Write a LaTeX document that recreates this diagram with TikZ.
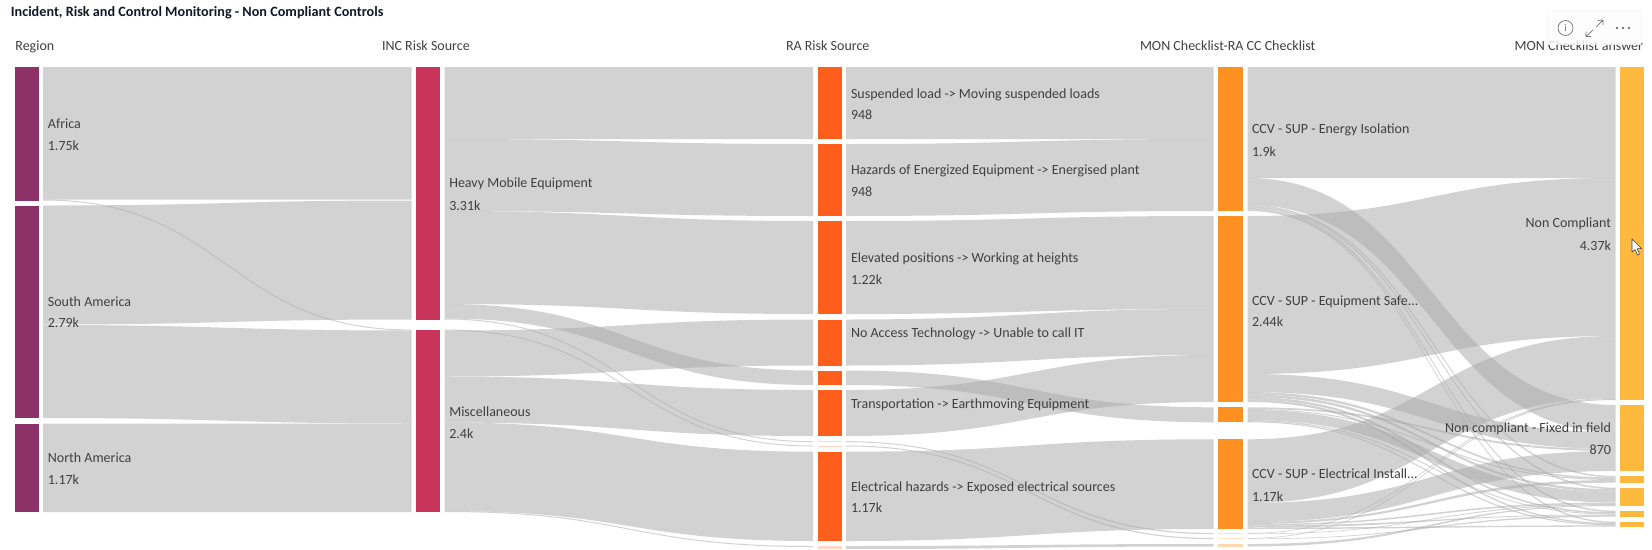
\documentclass[tikz,border=0pt]{standalone}
\usepackage{fontspec}
\usetikzlibrary{calc}
\setmainfont{Carlito}
\definecolor{cregion}{HTML}{8C3268}
\definecolor{cinc}{HTML}{C8345A}
\definecolor{cra}{HTML}{FF5E1C}
\definecolor{cmon}{HTML}{FF9022}
\definecolor{cans}{HTML}{FFB93F}
\definecolor{ctext}{HTML}{404040}
\definecolor{ctitle}{HTML}{101828}
\tikzset{
  barbox/.style={inner sep=0pt,outer sep=0pt,draw=none},
  flowband/.style={fill=black!33.3,fill opacity=0.52,draw=none},
  lab/.style={font=\fontsize{14}{16}\selectfont,text=ctext,inner sep=0pt,outer sep=0pt,anchor=base west,yshift=-4.6pt},
  rlab/.style={font=\fontsize{14}{16}\selectfont,text=ctext,inner sep=0pt,outer sep=0pt,anchor=base east,yshift=-4.6pt},
}
% \barnode{name}{x0}{x1}{y0}{y1}{colour}
\newcommand\barnode[6]{%
  \pgfmathsetmacro\bw{#3-#2}\pgfmathsetmacro\bh{#5-#4}%
  \node[barbox,fill=#6,minimum width=\bw pt,minimum height=\bh pt] (#1) at ({(#2+#3)/2},{(#4+#5)/2}) {};}
% \flow{src}{ya}{yb}{dst}{yc}{yd}
\newcommand\flow[6]{%
  \path let \p1=(#1.east),\p2=(#4.west),\p3=({(\x1+\x2)/2},0) in
   [flowband] ({\x1+4.5pt},-#2pt) .. controls (\x3,-#2pt) and (\x3,-#5pt) .. ({\x2-4.5pt},-#5pt)
   -- ({\x2-4.5pt},-#6pt) .. controls (\x3,-#6pt) and (\x3,-#3pt) .. ({\x1+4.5pt},-#3pt) -- cycle;}
\begin{document}
\begin{tikzpicture}[x=1pt,y=-1pt]
\useasboundingbox[fill=white] (0,0) rectangle (1652,549);
% bars
\barnode{africa}{15}{38.6}{67}{200.5}{cregion}
\barnode{samerica}{15}{38.6}{205.5}{418}{cregion}
\barnode{namerica}{15}{38.6}{423.5}{512}{cregion}
\barnode{heavy}{416}{440}{67}{319.5}{cinc}
\barnode{misc}{416}{440}{329.5}{512}{cinc}
\barnode{suspended}{817.5}{841.5}{67}{139}{cra}
\barnode{hazards}{817.5}{841.5}{144}{216}{cra}
\barnode{elevated}{817.5}{841.5}{221}{314}{cra}
\barnode{noaccess}{817.5}{841.5}{319.5}{365.5}{cra}
\barnode{other}{817.5}{841.5}{370.5}{385}{cra}
\barnode{transport}{817.5}{841.5}{390}{436}{cra}
\barnode{rasa}{817.5}{841.5}{441.2}{442.2}{cra!25}
\barnode{rasb}{817.5}{841.5}{445.5}{446.5}{cra!25}
\barnode{electrical}{817.5}{841.5}{451.7}{541}{cra}
\barnode{rasc}{817.5}{841.5}{546}{549}{cra!25}
\barnode{mona}{1218}{1243}{67}{211}{cmon}
\barnode{monb}{1218}{1243}{216}{402}{cmon}
\barnode{monc}{1218}{1243}{407.3}{422.3}{cmon}
\barnode{mond}{1218}{1243}{439.3}{529}{cmon}
\barnode{mone}{1218}{1243}{533}{534.2}{cmon!25}
\barnode{monf}{1218}{1243}{538}{539.2}{cmon!25}
\barnode{mong}{1218}{1243}{544}{546.5}{cmon!35}
\barnode{ansnc}{1620}{1644}{67}{400}{cans}
\barnode{ansfx}{1620}{1644}{405}{471}{cans}
\barnode{ansc}{1620}{1644}{476}{482.7}{cans}
\barnode{ansd}{1620}{1644}{487.7}{506}{cans}
\barnode{anse}{1620}{1644}{510.7}{516.7}{cans}
\barnode{ansf}{1620}{1644}{521.7}{526.7}{cans}
% Region -> INC
\flow{africa}{67}{199.5}{heavy}{67}{199.5}
\flow{africa}{199.5}{200.5}{misc}{329.5}{330.5}
\flow{samerica}{205.5}{324.5}{heavy}{200.5}{319.5}
\flow{samerica}{325}{418}{misc}{330.5}{423.5}
\flow{namerica}{423.5}{512}{misc}{423.5}{512}
% INC -> RA
\flow{heavy}{67}{139}{suspended}{67}{139}
\flow{heavy}{139}{211}{hazards}{144}{216}
\flow{heavy}{211}{304}{elevated}{221}{314}
\flow{heavy}{304}{318.5}{other}{370.5}{385}
\flow{heavy}{318.5}{319.5}{rasa}{441.2}{442.2}
\flow{misc}{329.5}{330.5}{rasb}{445.5}{446.5}
\flow{misc}{330.5}{376.5}{noaccess}{319.5}{365.5}
\flow{misc}{376.5}{422.5}{transport}{390}{436}
\flow{misc}{422.5}{511}{electrical}{451.7}{541}
\flow{misc}{511}{512}{rasc}{546}{547}
% RA -> MON
\flow{suspended}{67}{139}{mona}{67}{139}
\flow{hazards}{144}{216}{mona}{139}{211}
\flow{elevated}{221}{314}{monb}{216}{309}
\flow{noaccess}{319.5}{365.5}{monb}{309}{355}
\flow{transport}{390}{436}{monb}{355}{402}
\flow{other}{370.5}{385}{monc}{407.3}{422.3}
\flow{electrical}{451.7}{541}{mond}{439.3}{529}
\flow{rasa}{441.2}{442.2}{mone}{533}{534.2}
\flow{rasb}{445.5}{446.5}{monf}{538}{539.2}
\flow{rasc}{546}{549}{mong}{544}{546.5}
% MON -> answer
\flow{mona}{67}{178}{ansnc}{67}{178}
\flow{mona}{178}{205}{ansfx}{405}{432}
\flow{mona}{205}{206.5}{ansc}{476}{477.5}
\flow{mona}{206.5}{208}{ansd}{487.7}{489.2}
\flow{mona}{208}{209.5}{anse}{510.7}{512.2}
\flow{mona}{209.5}{211}{ansf}{521.7}{523}
\flow{monb}{216}{374}{ansnc}{178}{336}
\flow{monb}{374}{392}{ansfx}{432}{449}
\flow{monb}{392}{394.5}{ansc}{477.5}{479}
\flow{monb}{394.5}{397}{ansd}{489.2}{491.5}
\flow{monb}{397}{399.5}{anse}{512.2}{513.7}
\flow{monb}{399.5}{402}{ansf}{523}{524.2}
\flow{monc}{407.3}{409}{ansfx}{449}{451}
\flow{monc}{409}{410}{ansc}{479}{480}
\flow{monc}{410}{420}{ansd}{491.5}{502.5}
\flow{monc}{420}{421.2}{anse}{513.7}{514.5}
\flow{monc}{421.2}{422.3}{ansf}{524.2}{525.4}
\flow{mond}{439.3}{503}{ansnc}{336}{398}
\flow{mond}{503}{522}{ansfx}{451}{471}
\flow{mond}{522}{524}{ansc}{480}{482.7}
\flow{mond}{524}{525.5}{ansd}{502.5}{504}
\flow{mond}{525.5}{527.5}{anse}{514.5}{515.2}
\flow{mond}{527.5}{529}{ansf}{525.4}{526.7}
\flow{mone}{533}{533.6}{ansnc}{398}{399}
\flow{mone}{533.6}{534.2}{ansd}{504}{505}
\flow{monf}{538}{538.6}{ansnc}{399}{400}
\flow{monf}{538.6}{539.2}{anse}{515.2}{516.7}
\flow{mong}{544}{546.5}{ansd}{505}{506}
% labels
\node[anchor=base west,yshift=-4.6pt,inner sep=0pt,font=\bfseries\fontsize{14.2}{16}\selectfont,text=ctitle] (title) at (10.7,11.5) {Incident, Risk and Control Monitoring - Non Compliant Controls};
\node[lab] (hregion) at (15.4,46) {Region};
\node[lab] (hinc) at (382,46) {INC Risk Source};
\node[lab] (hra) at (786,46) {RA Risk Source};
\node[lab] (hmon) at (1140,46) {MON Checklist-RA CC Checklist};
\node[rlab] (hans) at (1643,46) {MON Checklist answer};
\node[lab] (l1) at (47.9,124) {Africa};
\node[lab] (v1) at (47.9,146) {1.75k};
\node[lab] (l2) at (47.9,301.7) {South America};
\node[lab] (v2) at (47.9,323) {2.79k};
\node[lab] (l3) at (47.9,458) {North America};
\node[lab] (v3) at (47.9,480) {1.17k};
\node[lab] (l4) at (449.3,183) {Heavy Mobile Equipment};
\node[lab] (v4) at (449.3,205.5) {3.31k};
\node[lab] (l5) at (449.3,412) {Miscellaneous};
\node[lab] (v5) at (449.3,433.5) {2.4k};
\node[lab] (l6) at (851,93.7) {Suspended load -> Moving suspended loads};
\node[lab] (v6) at (851,115) {948};
\node[lab] (l7) at (851,170) {Hazards of Energized Equipment -> Energised plant};
\node[lab] (v7) at (851,192) {948};
\node[lab] (l8) at (851,258.3) {Elevated positions -> Working at heights};
\node[lab] (v8) at (851,280) {1.22k};
\node[lab] (l9) at (851,333.3) {No Access Technology -> Unable to call IT};
\node[lab] (l10) at (851,404) {Transportation -> Earthmoving Equipment};
\node[lab] (l11) at (851,486.7) {Electrical hazards -> Exposed electrical sources};
\node[lab] (v11) at (851,508) {1.17k};
\node[lab] (l12) at (1252,129.3) {CCV - SUP - Energy Isolation};
\node[lab] (v12) at (1252,151.7) {1.9k};
\node[lab] (l13) at (1252,300.7) {CCV - SUP - Equipment Safe...};
\node[lab] (v13) at (1252,322) {2.44k};
\node[lab] (l14) at (1252,474) {CCV - SUP - Electrical Install...};
\node[lab] (v14) at (1252,496.7) {1.17k};
\node[rlab] (l15) at (1611,223.3) {Non Compliant};
\node[rlab] (v15) at (1611,245.7) {4.37k};
\node[rlab] (l16) at (1611,428.3) {Non compliant - Fixed in field};
\node[rlab] (v16) at (1611,450) {870};
% toolbar over the chart
\fill[black,opacity=0.03] (1547,11) rectangle (1642,46);
\fill[white,opacity=0.82] (1548,12) rectangle (1641,45);
\node[draw=black!55,circle,line width=0.7pt,minimum size=15pt,inner sep=0pt,font=\fontsize{10}{10}\selectfont,text=black!60] (info) at (1565.5,28) {i};
\draw[black!55,line width=0.7pt] (1586,36.5) -- (1593,30) (1586,36.5) -- (1586,31.5) (1586,36.5) -- (1591,36.5);
\draw[black!55,line width=0.7pt] (1596,27) -- (1603,20) (1603,20) -- (1598,20.5) (1603,20) -- (1603,25);
\fill[black!55] (1617,28) circle (1.3) (1623,28) circle (1.3) (1629,28) circle (1.3);
% pointer
\filldraw[fill=white,draw=black!75,line width=0.6pt,line join=round] (1632,239) -- (1632,252) -- (1635,249.5) -- (1637.5,255) -- (1639.5,254) -- (1637.2,248.7) -- (1641.5,248.5) -- cycle;
\end{tikzpicture}
\end{document}
